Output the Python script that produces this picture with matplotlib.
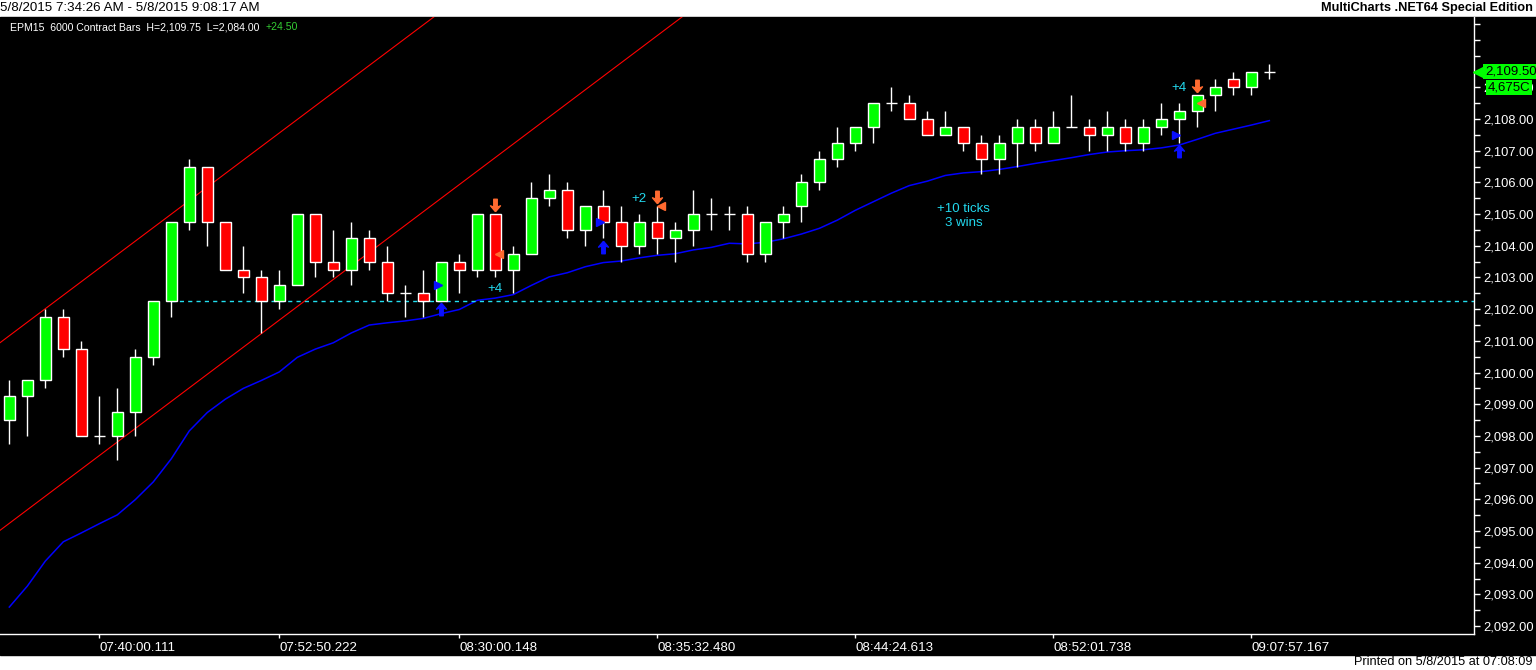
import matplotlib
matplotlib.use("Agg")
import matplotlib.pyplot as plt
from matplotlib.patches import Rectangle
from matplotlib.ticker import FixedLocator, FuncFormatter
import matplotlib.transforms as mtransforms

plt.rcParams['font.family'] = ['Liberation Sans', 'DejaVu Sans']

# ---- data (6000 contract bars, EPM15) ----
opens = [2098.5, 2099.25, 2099.75, 2101.75, 2100.75, 2098.0, 2098.0, 2098.75, 2100.5, 2102.25,
         2104.75, 2106.5, 2104.75, 2103.25, 2103.0, 2102.25, 2102.75, 2105.0, 2103.5, 2103.25,
         2104.25, 2103.5, 2102.5, 2102.5, 2102.25, 2103.5, 2103.25, 2105.0, 2103.25, 2103.75,
         2105.5, 2105.75, 2104.5, 2105.25, 2104.75, 2104.0, 2104.75, 2104.25, 2104.5, 2105.0,
         2105.0, 2105.0, 2103.75, 2104.75, 2105.25, 2106.0, 2106.75, 2107.25, 2107.75, 2108.5,
         2108.5, 2108.0, 2107.5, 2107.75, 2107.25, 2106.75, 2107.25, 2107.75, 2107.25, 2107.75,
         2107.75, 2107.5, 2107.75, 2107.25, 2107.75, 2108.0, 2108.25, 2108.75, 2109.25, 2109.0,
         2109.5]
highs = [2099.75, 2099.75, 2102.0, 2102.0, 2101.0, 2099.25, 2099.5, 2100.75, 2102.25, 2104.75,
         2106.75, 2106.5, 2104.75, 2104.0, 2103.25, 2103.25, 2105.0, 2105.0, 2104.5, 2104.75,
         2104.5, 2104.0, 2102.75, 2103.25, 2103.5, 2103.75, 2105.0, 2105.0, 2104.0, 2106.0,
         2106.25, 2106.0, 2105.25, 2105.75, 2105.25, 2105.0, 2105.25, 2104.75, 2105.75, 2105.5,
         2105.25, 2105.25, 2104.75, 2105.25, 2106.25, 2107.0, 2107.75, 2107.75, 2108.5, 2109.0,
         2108.75, 2108.25, 2108.25, 2107.75, 2107.5, 2107.5, 2108.0, 2108.0, 2108.25, 2108.75,
         2108.0, 2108.25, 2108.0, 2108.0, 2108.5, 2108.5, 2108.75, 2109.25, 2109.5, 2109.5,
         2109.75]
lows = [2097.75, 2098.0, 2099.5, 2100.5, 2098.0, 2097.75, 2097.25, 2098.0, 2100.25, 2101.75,
        2104.5, 2104.0, 2103.25, 2102.5, 2101.25, 2102.0, 2102.75, 2103.0, 2103.0, 2102.75,
        2103.25, 2102.25, 2101.75, 2101.75, 2102.25, 2102.5, 2103.0, 2103.0, 2102.5, 2103.75,
        2105.25, 2104.25, 2104.0, 2104.25, 2103.5, 2103.75, 2103.75, 2103.5, 2104.0, 2104.5,
        2104.5, 2103.5, 2103.5, 2104.25, 2104.75, 2105.75, 2106.5, 2107.0, 2107.25, 2108.25,
        2108.0, 2107.5, 2107.5, 2107.0, 2106.25, 2106.25, 2106.5, 2107.0, 2107.25, 2107.75,
        2107.0, 2107.0, 2107.0, 2107.0, 2107.5, 2107.25, 2107.75, 2108.25, 2108.75, 2108.75,
        2109.25]
closes = [2099.25, 2099.75, 2101.75, 2100.75, 2098.0, 2098.0, 2098.75, 2100.5, 2102.25, 2104.75,
          2106.5, 2104.75, 2103.25, 2103.0, 2102.25, 2102.75, 2105.0, 2103.5, 2103.25, 2104.25,
          2103.5, 2102.5, 2102.5, 2102.25, 2103.5, 2103.25, 2105.0, 2103.25, 2103.75, 2105.5,
          2105.75, 2104.5, 2105.25, 2104.75, 2104.0, 2104.75, 2104.25, 2104.5, 2105.0, 2105.0,
          2105.0, 2103.75, 2104.75, 2105.0, 2106.0, 2106.75, 2107.25, 2107.75, 2108.5, 2108.5,
          2108.0, 2107.5, 2107.75, 2107.25, 2106.75, 2107.25, 2107.75, 2107.25, 2107.75, 2107.75,
          2107.5, 2107.75, 2107.25, 2107.75, 2108.0, 2108.25, 2108.75, 2109.0, 2109.0, 2109.5,
          2109.5]

# blue average line
avg_line = [2092.60, 2093.26, 2094.05, 2094.66, 2094.94, 2095.23, 2095.51, 2095.99, 2096.55, 2097.28,
            2098.16, 2098.74, 2099.16, 2099.50, 2099.75, 2100.02, 2100.48, 2100.74, 2100.94, 2101.25,
            2101.50, 2101.57, 2101.63, 2101.71, 2101.86, 2101.99, 2102.28, 2102.35, 2102.46, 2102.75,
            2103.02, 2103.15, 2103.34, 2103.47, 2103.52, 2103.62, 2103.70, 2103.75, 2103.87, 2103.95,
            2104.08, 2104.06, 2104.11, 2104.22, 2104.37, 2104.55, 2104.81, 2105.12, 2105.39, 2105.66,
            2105.90, 2106.04, 2106.22, 2106.30, 2106.34, 2106.41, 2106.50, 2106.60, 2106.69, 2106.78,
            2106.88, 2106.96, 2107.00, 2107.03, 2107.09, 2107.18, 2107.36, 2107.55, 2107.68, 2107.81,
            2107.95]

# red channel lines (two end points each: bar, price)
upper_channel_bars = [-0.52, 23.58]
upper_channel_prices = [2100.94, 2111.22]
lower_channel_bars = [-0.52, 37.37]
lower_channel_prices = [2095.02, 2111.22]

# dotted level
level_start_bar = 9
level_price = 2102.25

# trade markers
entry_bars = [24, 33, 65]
entry_prices = [2102.75, 2104.75, 2107.5]
entry_arrow_prices = [2102.0, 2103.97, 2106.99]
exit_bars = [27, 36, 66]
exit_prices = [2103.75, 2105.25, 2108.5]
exit_arrow_prices = [2105.30, 2105.55, 2109.03]

trade_label_bars = [27, 35, 65]
trade_label_prices = [2102.63, 2105.48, 2108.98]
trade_labels = ['+4', '+2', '+4']

summary_bar = 53
summary_price = 2104.93
summary_text = '+10 ticks\n3 wins'

tick_bars = [5, 15, 25, 36, 47, 58, 69]
tick_labels = ['07:40:00.111', '07:52:50.222', '08:30:00.148', '08:35:32.480',
               '08:44:24.613', '08:52:01.738', '09:07:57.167']

title_text = '5/8/2015 7:34:26 AM - 5/8/2015 9:08:17 AM'
symbol_text = 'EPM15  6000 Contract Bars  H=2,109.75  L=2,084.00'
change_text = '+24.50'
counter_text = '4,675C'

# ---- figure ----
W, H = 1536, 670
fig = plt.figure(figsize=(W / 100, H / 100), dpi=100, facecolor='white')

# black chart background between the white strips
fig.add_artist(Rectangle((0, 1 - 654.5 / H), 1, (654.5 - 16.5) / H,
                         transform=fig.transFigure, color='black', zorder=-10))

ax = fig.add_axes([0, (H - 634) / H, 1474 / W, (634 - 17) / H])
ax.set_facecolor('black')

n = len(closes)
xs = list(range(n))
up_col = '#00FF00'
dn_col = '#FF0000'

# wicks
ax.vlines(xs, lows, highs, color='white', linewidth=1.0, zorder=3)
# bodies
bottoms = [min(o, c) for o, c in zip(opens, closes)]
heights = [abs(c - o) for o, c in zip(opens, closes)]
colors = [up_col if c >= o else dn_col for o, c in zip(opens, closes)]
ax.bar(xs, heights, bottom=bottoms, width=0.62, color=colors,
       edgecolor='white', linewidth=1.0, zorder=4)

# average line and channel
ax.plot(xs, avg_line, color='#0000FF', linewidth=1.1, zorder=2)
ax.plot(upper_channel_bars, upper_channel_prices, color='#FF0000', linewidth=0.8, zorder=2)
ax.plot(lower_channel_bars, lower_channel_prices, color='#FF0000', linewidth=0.8, zorder=2)

# dashed level
ax.hlines(level_price, level_start_bar, 100, color='#22E0F0', linewidth=1.0,
          linestyles=(0, (3, 3)), zorder=2)

# arrow marker shapes
up_arrow = [(0, 1), (0.8, 0.05), (0.28, 0.25), (0.28, -1), (-0.28, -1), (-0.28, 0.25),
            (-0.8, 0.05), (0, 1)]
down_arrow = [(x, -y) for x, y in up_arrow]

ax.plot(entry_bars, entry_arrow_prices, linestyle='none', marker=up_arrow,
        markersize=9, color='#0A10FF', zorder=6)
ax.plot([b - 0.2 for b in entry_bars], entry_prices, linestyle='none', marker='>',
        markersize=5.5, color='#0A10FF', zorder=6)
ax.plot(exit_bars, exit_arrow_prices, linestyle='none', marker=down_arrow,
        markersize=9, color='#FF6A30', zorder=6)
ax.plot([b + 0.2 for b in exit_bars], exit_prices, linestyle='none', marker='<',
        markersize=5.5, color='#FF6A30', zorder=6)

for b, p, t in zip(trade_label_bars, trade_label_prices, trade_labels):
    ax.text(b, p, t, color='#22D8EE', fontsize=9.5, ha='center', va='center', zorder=7)
ax.text(summary_bar, summary_price, summary_text, color='#22D8EE', fontsize=9.5,
        ha='center', va='center', linespacing=1.2, zorder=7)

# axes limits
ax.set_xlim(-0.517, 81.37)
ax.set_ylim(2091.75, 2111.22)

# spines
for side in ['left', 'top']:
    ax.spines[side].set_visible(False)
for side in ['right', 'bottom']:
    ax.spines[side].set_color('white')
    ax.spines[side].set_linewidth(1.0)

# y axis on the right
ax.yaxis.tick_right()
major_y = [2092 + i for i in range(20)]
ax.yaxis.set_major_locator(FixedLocator(major_y))
ax.yaxis.set_minor_locator(FixedLocator([v + 0.5 for v in major_y]))
ax.yaxis.set_major_formatter(FuncFormatter(lambda v, pos: f'{v:,.2f}' if v <= 2109 else ''))
ax.tick_params(axis='y', which='both', colors='white', direction='out', length=4,
               width=1, labelsize=9.3, pad=3)

# x axis
ax.set_xticks(tick_bars)
ax.set_xticklabels(tick_labels)
ax.tick_params(axis='x', colors='white', direction='out', length=3, width=1,
               labelsize=9.6, pad=3)
for lab in ax.get_xticklabels():
    lab.set_horizontalalignment('left')

# last price tag and counter box
last_close = closes[-1]
trans = mtransforms.blended_transform_factory(ax.transAxes, ax.transData)
ax.plot([1.0025], [last_close], marker='<', markersize=7, color='#00FF00',
        transform=trans, clip_on=False, zorder=8)
ax.text(1.0075, last_close, f'{last_close:,.2f}', transform=trans, fontsize=9.5,
        color='black', ha='left', va='center', clip_on=False, zorder=9,
        bbox=dict(boxstyle='square,pad=0.12', facecolor='#00FF00', edgecolor='none'))
ax.text(1.0095, last_close - 0.5, counter_text, transform=trans, fontsize=9.5,
        color='black', ha='left', va='center', clip_on=False, zorder=9,
        bbox=dict(boxstyle='square,pad=0.12', facecolor='#00FF00', edgecolor='none'))

# header text inside the chart
hdr = ax.text(10 / 1474, 1 - 10 / 617, symbol_text, transform=ax.transAxes,
              fontsize=7.6, color='white', ha='left', va='center', zorder=9)
fig.canvas.draw()
bb = hdr.get_window_extent()
fig.text((bb.x1 + 6) / W, 1 - 27 / H, change_text, fontsize=7.6, color='#33CC33',
         ha='left', va='center')

# white strips text
fig.text(0.0, 1 - 8 / H, title_text, fontsize=9.6, color='black', ha='left', va='center')
fig.text(1 - 3 / W, 1 - 8 / H, 'MultiCharts .NET64 Special Edition', fontsize=9.2,
         fontweight='bold', color='black', ha='right', va='center')
fig.text(1 - 3 / W, 1 - 662 / H, 'Printed on 5/8/2015 at 07:08:09', fontsize=9.2,
         color='black', ha='right', va='center')

fig.savefig('out.png', dpi=100, facecolor='white')
